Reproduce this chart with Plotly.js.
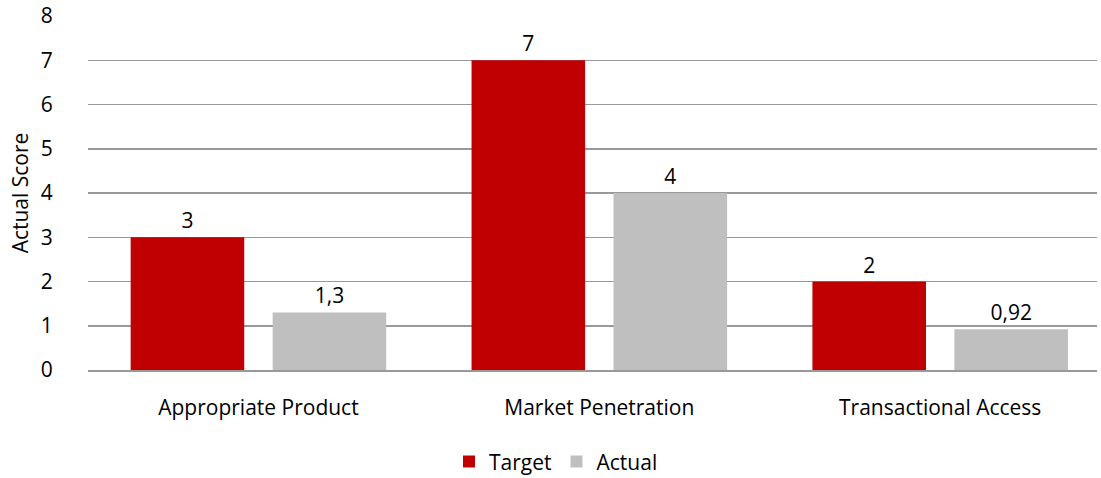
<!DOCTYPE html>
<html><head><meta charset="utf-8">
<script src="https://cdn.plot.ly/plotly-3.0.1.min.js"></script>
<style>body{margin:0;background:#fff}#c{width:1101px;height:478px}</style>
</head><body><div id="c"></div>
<script>
const categories = ["Appropriate Product", "Market Penetration", "Transactional Access"];
const targetValues = [3, 7, 2];
const actualValues = [1.3, 4, 0.92];
const seriesNames = ["Target", "Actual"];
const yTicks = [0, 1, 2, 3, 4, 5, 6, 7, 8];

const font = {family: "Open Sans, Liberation Sans, sans-serif", color: "#000"};
const f = s => Object.assign({}, font, {size: s});
const mk = (name, vals, color) => ({
  type: "bar", name: name, x: categories, y: vals,
  marker: {color: color},
  text: vals.map(v => String(v).replace(".", ",")),
  textposition: "outside", texttemplate: "%{text}",
  textfont: f(21), cliponaxis: false,
  hoverinfo: "skip"
});
const data = [mk(seriesNames[0], targetValues, "#C00000"), mk(seriesNames[1], actualValues, "#BFBFBF")];
const layout = {
  width: 1101, height: 478,
  margin: {l: 88, r: 4, t: 16, b: 108, autoexpand: false},
  paper_bgcolor: "#fff", plot_bgcolor: "#fff",
  font: font,
  bargap: 0.167, bargroupgap: 0.2,
  showlegend: true,
  legend: {orientation: "h", x: 0.505, xanchor: "center", xref: "container",
           y: 0.034, yanchor: "middle", yref: "container",
           font: f(21), itemwidth: 30, traceorder: "normal"},
  xaxis: {type: "category", range: [-0.5, 2.46], tickfont: f(21),
          ticks: "outside", ticklen: 18, tickcolor: "rgba(0,0,0,0)",
          showline: true, linecolor: "#999", linewidth: 2, showgrid: false, fixedrange: true,
          automargin: false},
  yaxis: {range: [0, 8], tickvals: yTicks, ticktext: yTicks.map(String),
          tickfont: f(21), automargin: false,
          ticks: "outside", ticklen: 30, tickcolor: "rgba(0,0,0,0)",
          showgrid: true, gridcolor: "#999", gridwidth: 1.5, zeroline: false, showline: false,
          title: {text: "Actual Score", font: f(21), standoff: 6}}
};
Plotly.newPlot("c", data, layout, {displayModeBar: false, staticPlot: true});
</script></body></html>
